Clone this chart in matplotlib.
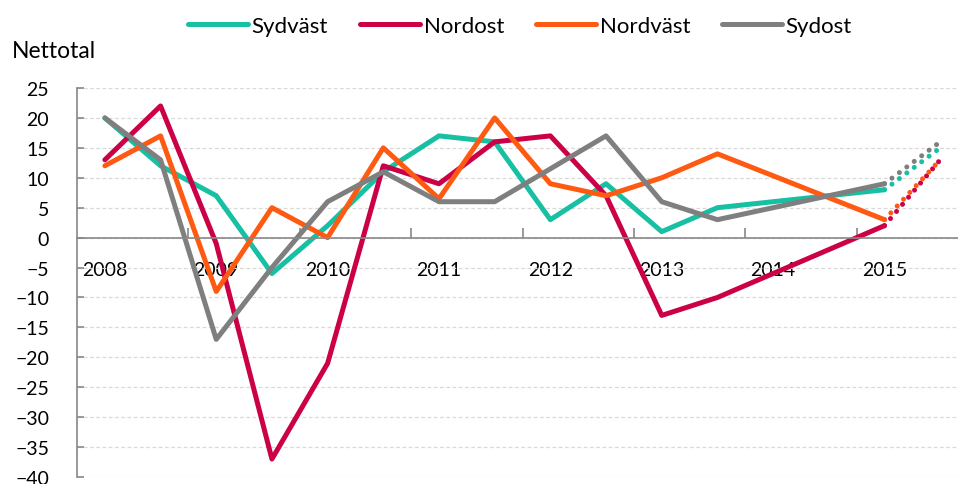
import numpy as np
import matplotlib
matplotlib.use("Agg")
import matplotlib.pyplot as plt
from matplotlib.ticker import FixedLocator, NullFormatter

plt.rcParams['font.family'] = ['Lato', 'DejaVu Sans']

# halvårsperioder (2008 = första halvåret 2008)
perioder = [2008.0, 2008.5, 2009.0, 2009.5, 2010.0, 2010.5, 2011.0,
            2011.5, 2012.0, 2012.5, 2013.0, 2013.5, 2015.0]
sydvast = [20, 12, 7, -6, 2, 11, 17, 16, 3, 9, 1, 5, 8]
nordost = [13, 22, -1, -37, -21, 12, 9, 16, 17, 7, -13, -10, 2]
nordvast = [12, 17, -9, 5, 0, 15, 6.5, 20, 9, 7, 10, 14, 3]
sydost = [20, 13, -17, -5, 6, 11, 6, 6, 11.5, 17, 6, 3, 9]

# prognos (prickad)
prognos_perioder = [2015.0, 2015.5]
prognos_sydvast = [8, 15]
prognos_nordost = [2, 13]
prognos_nordvast = [3, 13]
prognos_sydost = [9, 16]

ar = [2008, 2009, 2010, 2011, 2012, 2013, 2014, 2015]

serier = [
    ("Sydväst", sydvast, prognos_sydvast, "#17BFA3"),
    ("Nordost", nordost, prognos_nordost, "#CC0047"),
    ("Nordväst", nordvast, prognos_nordvast, "#FF5A12"),
    ("Sydost", sydost, prognos_sydost, "#7F7F7F"),
]


def pos(p):
    return (np.asarray(p, dtype=float) - 2008) * 2


fig = plt.figure(figsize=(9.58, 4.85), dpi=100)
ax = fig.add_axes([0.0804, 0.0144, 0.9196, 0.8021])

lw = 3.6
for namn, v, prog, farg in serier:
    ax.plot(pos(perioder), v, color=farg, lw=lw, label=namn,
            solid_capstyle='round', solid_joinstyle='round')
    ax.plot(pos(prognos_perioder), prog, color=farg, lw=lw,
            linestyle=(0, (0.01, 1.85)), dash_capstyle='round')

ax.set_ylim(-40, 25)
ax.set_xlim(-0.5, 15.32)
ax.set_yticks(range(-40, 26, 5))
ax.grid(axis='y', color='#D9D9D9', lw=0.9, linestyle=(0, (3, 2)))
ax.set_axisbelow(True)

for s in ['top', 'right']:
    ax.spines[s].set_visible(False)
ax.spines['left'].set_color('#888888')
ax.spines['left'].set_linewidth(1.2)
ax.spines['bottom'].set_position(('data', 0))
ax.spines['bottom'].set_color('#888888')
ax.spines['bottom'].set_linewidth(1.2)

ax.tick_params(axis='y', direction='in', length=5, width=1.2, color='#888888',
               labelsize=14, pad=20)
ax.xaxis.set_major_locator(FixedLocator(np.arange(1.5, 15, 2)))
ax.xaxis.set_major_formatter(NullFormatter())
ax.xaxis.set_minor_locator(FixedLocator(pos(ar)))
ax.set_xticklabels([str(a) for a in ar], minor=True)
ax.tick_params(axis='x', which='major', direction='in', length=7, width=1.2,
               color='#888888')
ax.tick_params(axis='x', which='minor', length=0, labelsize=14, pad=17)

fig.text(0.012, 0.893, "Nettotal", fontsize=16.5, va='center', ha='left')

ax.legend(loc='center', bbox_to_anchor=(0.543, 0.944), bbox_transform=fig.transFigure,
          ncol=4, frameon=False, fontsize=16, handlelength=2.7, handletextpad=0.15,
          columnspacing=1.45)

fig.savefig("out.png", dpi=100)
